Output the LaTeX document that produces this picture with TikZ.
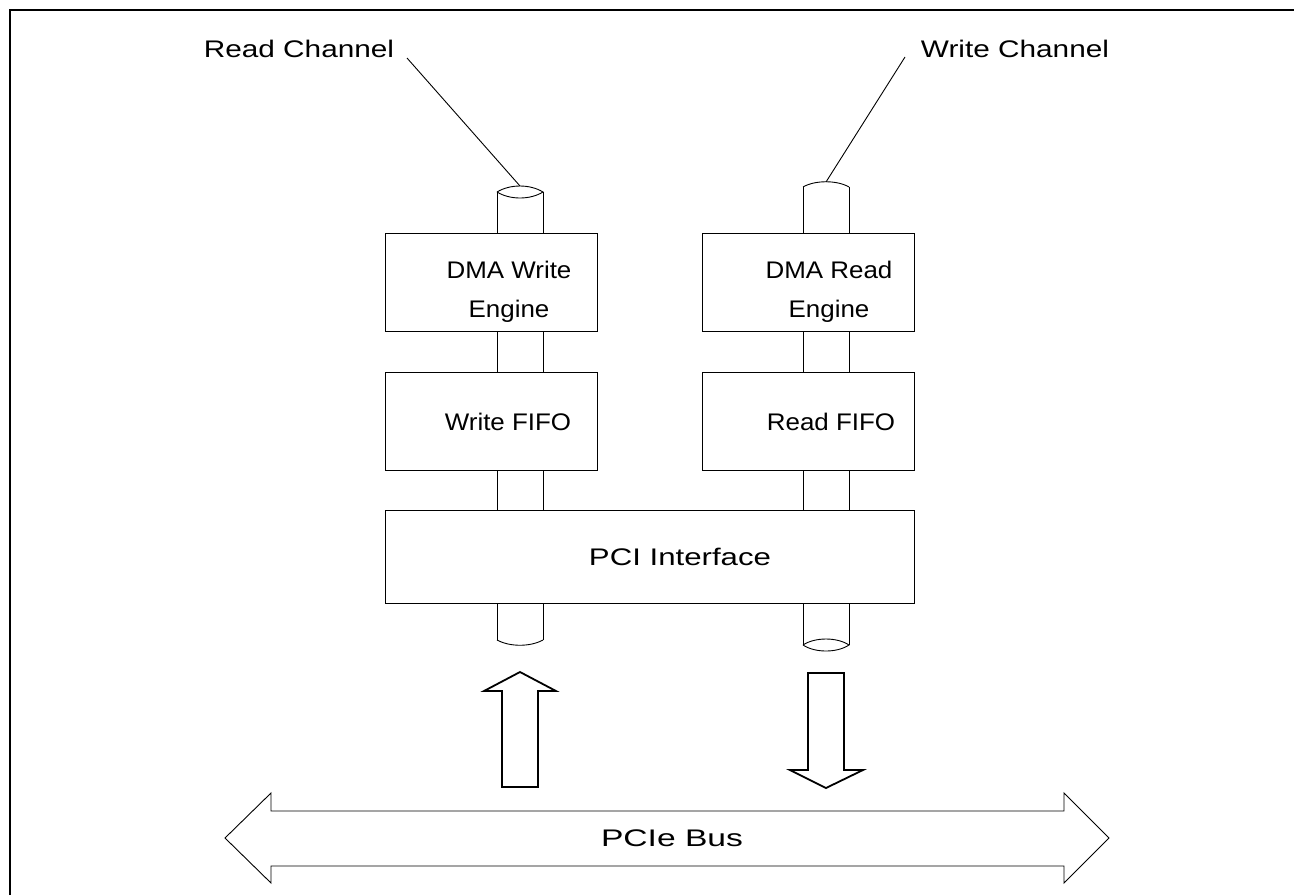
\documentclass[tikz,border=0pt]{standalone}
\usepackage{fontspec}
\setmainfont{Liberation Sans}
\begin{document}
\begin{tikzpicture}[x=1pt,y=-1pt,
  box/.style={draw,line width=0.9pt,fill=white},
  lbl/.style={font=\fontsize{24}{39}\selectfont,align=center,inner sep=0pt},
  thin/.style={line width=0.9pt},
  blk/.style={line width=1.8pt,line join=miter}]
\useasboundingbox (0,0) rectangle (1294,895);
% frame
\draw[line width=2.5pt] (10,895) -- (10,10) -- (1294,10);
% cylinders sides (behind boxes)
\draw[thin] (497,192) -- (497,640) (543,192) -- (543,640);
\draw[thin] (803,187) -- (803,645) (849,187) -- (849,645);
% left top lens
\draw[thin] (497,192) .. controls (510,184) and (530,184) .. (543,192)
            .. controls (530,200) and (510,200) .. (497,192);
% right top dome
\draw[thin] (803,187) .. controls (815,180) and (837,180) .. (849,187);
% left bottom arc
\draw[thin] (497,640) .. controls (510,647) and (530,647) .. (543,640);
% right bottom lens
\draw[thin] (803,645) .. controls (815,637) and (837,637) .. (849,645)
            .. controls (837,653) and (815,653) .. (803,645);
\coordinate (lctop) at (520,186);
\coordinate (rctop) at (826,182);
% boxes
\node[box,minimum width=212pt,minimum height=98pt,anchor=north west] (dwe) at (385,233) {};
\node[box,minimum width=212pt,minimum height=98pt,anchor=north west] (dre) at (702,233) {};
\node[box,minimum width=212pt,minimum height=98pt,anchor=north west] (wf) at (385,372) {};
\node[box,minimum width=212pt,minimum height=98pt,anchor=north west] (rf) at (702,372) {};
\node[box,minimum width=529pt,minimum height=93pt,anchor=north west] (pci) at (385,510) {};
\node[lbl] (tdwe) at (509,292) {\scalebox{1.08}[1]{DMA Write}\\\scalebox{1.08}[1]{Engine}};
\node[lbl] (tdre) at (829,292) {\scalebox{1.08}[1]{DMA Read}\\\scalebox{1.08}[1]{Engine}};
\node[lbl] (twf) at (508,422) {\scalebox{1.08}[1]{Write FIFO}};
\node[lbl] (trf) at (831,422) {\scalebox{1.08}[1]{Read FIFO}};
\node[lbl] (tpci) at (680,557) {\scalebox{1.3}[1]{PCI Interface}};
% channel labels
\node[lbl] (rc) at (299,49) {\scalebox{1.24}[1]{Read Channel}};
\node[lbl] (wc) at (1015,49) {\scalebox{1.24}[1]{Write Channel}};
\coordinate (rcl) at (407,58);
\coordinate (wcl) at (905,57);
\draw[thin] (rcl) -- (lctop);
\draw[thin] (wcl) -- (rctop);
% up arrow
\draw[blk] (502,787) -- (502,691) -- (484,691) -- (520,672) -- (556,691) -- (538,691) -- (538,787) -- cycle;
% down arrow
\draw[blk] (808,673) -- (844,673) -- (844,770) -- (863,770) -- (826,788) -- (790,770) -- (808,770) -- cycle;
% PCIe bus
\draw[thin] (225,838) -- (271,793) -- (271,811) -- (1064,811) -- (1064,793) -- (1109,838)
  -- (1064,883) -- (1064,866) -- (271,866) -- (271,883) -- cycle;
\node[lbl] (bus) at (672,838) {\scalebox{1.4}[1]{PCIe Bus}};
\end{tikzpicture}
\end{document}
